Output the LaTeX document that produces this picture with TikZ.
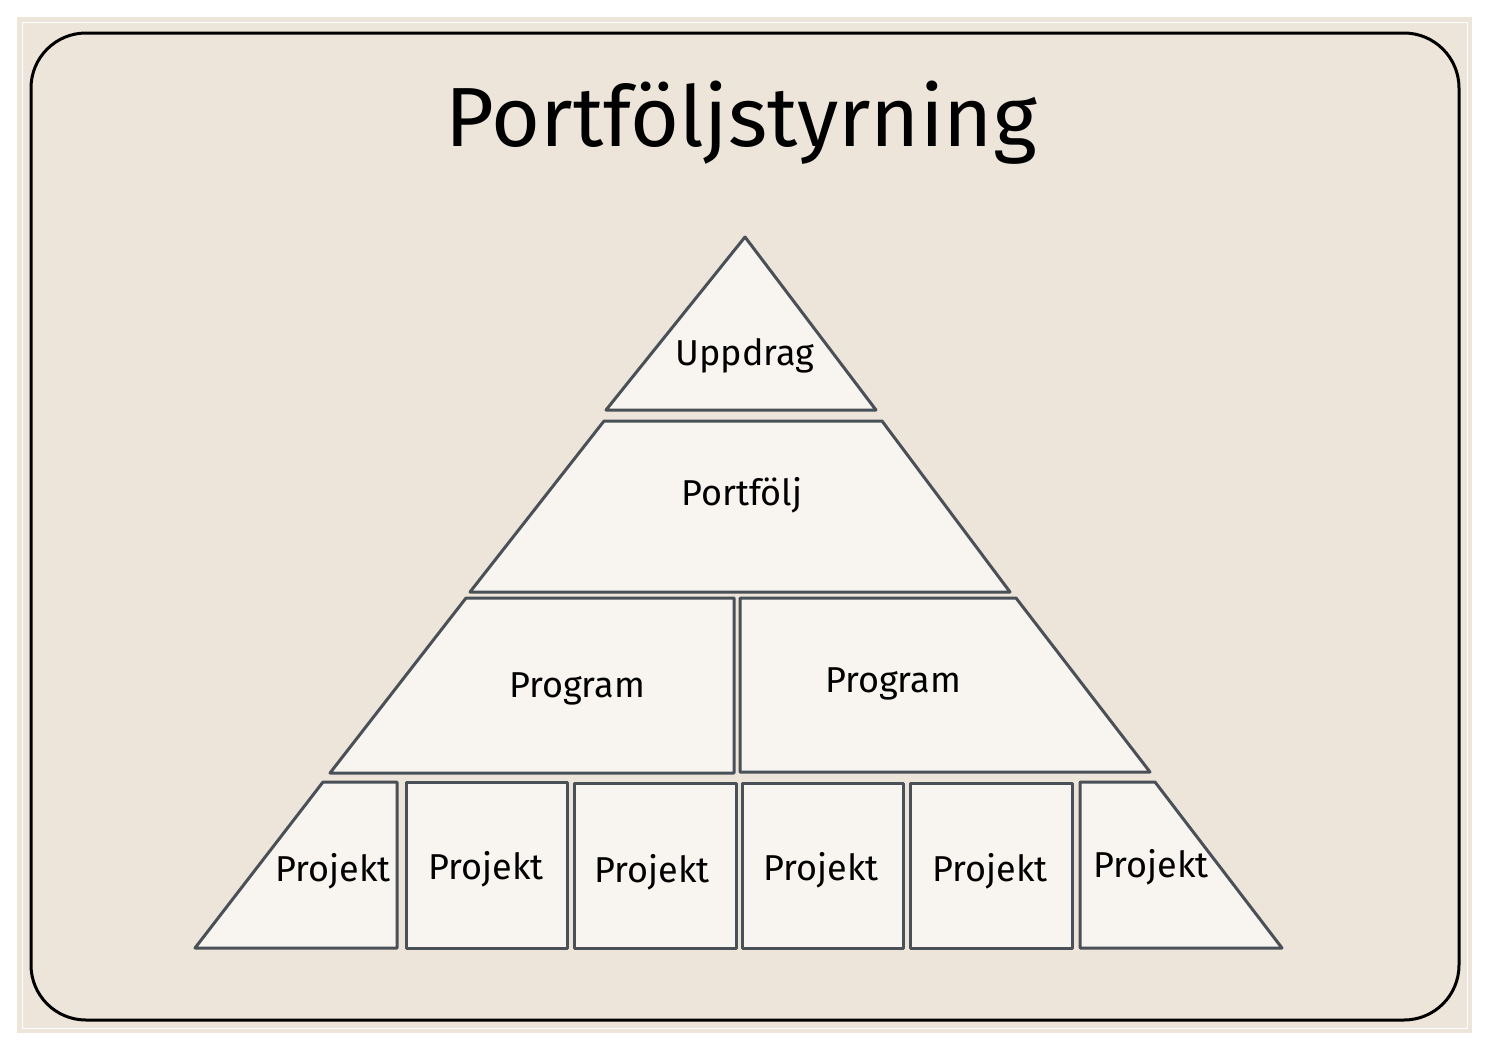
\documentclass[tikz,border=0pt]{standalone}
\usepackage{fontspec}
\setmainfont{Fira Sans}
\usetikzlibrary{positioning}
\definecolor{paper}{HTML}{EDE5D9}
\definecolor{tierfill}{HTML}{F8F5F0}
\definecolor{pencil}{HTML}{495057}
\tikzset{
  tier/.style={draw=pencil, fill=tierfill, line width=3pt, line join=round},
  tierlabel/.style={anchor=base, font=\fontsize{36}{42}\selectfont},
}

\begin{document}
\begin{tikzpicture}[x=1pt,y=-1pt]
      \useasboundingbox (0,0) rectangle (1490,1052);
      \fill[paper] (17,17) rectangle (1472,1033);
      \draw[white, line width=1pt] (22,22) rectangle (1467,1028);
      \draw[line width=3pt, rounded corners=55pt] (31,33) rectangle (1459,1020);
      \node (title)[anchor=base, font=\fontsize{84}{96}\selectfont] at (741,146) {Portföljstyrning};
      % the tiers
      \draw[tier] (745,237) -- (606,410) -- (876,410) -- cycle;
      \draw[tier] (604,421) -- (882,421) -- (1010,592) -- (470,592) -- cycle;
      \draw[tier] (466,598) -- (734,598) -- (734,773) -- (330,773) -- cycle;
      \draw[tier] (740,598) -- (1016,598) -- (1150,772) -- (740,772) -- cycle;
      \draw[tier] (323,782) -- (397,782) -- (397,948) -- (195,948) -- cycle;
      \draw[tier] (406,782) rectangle (567,948);
      \draw[tier] (574,783) rectangle (736,948);
      \draw[tier] (742,783) rectangle (903,948);
      \draw[tier] (910,783) rectangle (1072,948);
      \draw[tier] (1080,782) -- (1155,782) -- (1282,948) -- (1080,948) -- cycle;
      \begin{scope}[every node/.style={tierlabel}]
        \node (uppdrag) at (745,365) {Uppdrag};
        \node (portfolj) at (742,505) {Portfölj};
        \node (progL) at (577,697) {Program};
        \node (progR) at (893,692) {Program};
        \node (proj1) at (333,881) {Projekt};
        \node (proj2) at (486,879) {Projekt};
        \node (proj3) at (652,882) {Projekt};
        \node (proj4) at (821,880) {Projekt};
        \node (proj5) at (990,881) {Projekt};
        \node (proj6) at (1151,877) {Projekt};
      \end{scope}
    \end{tikzpicture}
\end{document}
